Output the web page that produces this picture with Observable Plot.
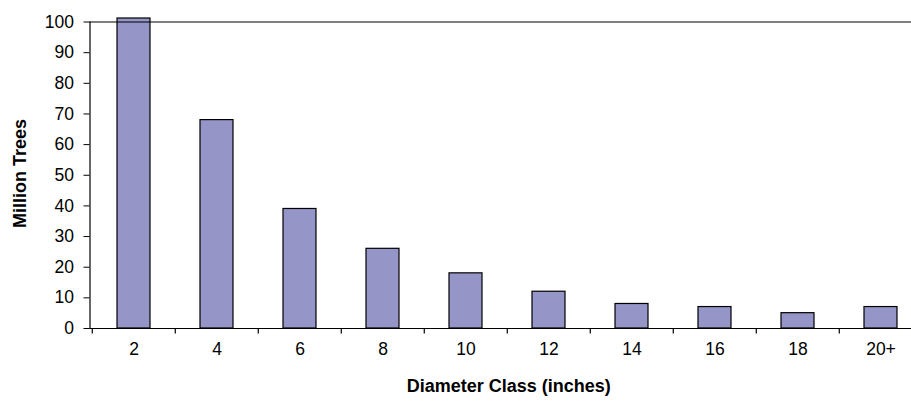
<!DOCTYPE html>
<html>
<head>
<meta charset="utf-8">
<script src="https://cdn.jsdelivr.net/npm/d3@7"></script>
<script src="https://cdn.jsdelivr.net/npm/@observablehq/plot@0.6"></script>
<style>
  html, body { margin: 0; padding: 0; background: #fff; }
</style>
</head>
<body>
<div id="chart"></div>
<script>
const categories = ["2", "4", "6", "8", "10", "12", "14", "16", "18", "20+"];
const millionTrees = [101.15, 68, 39, 26, 18, 12, 8, 7, 5, 7];
const yTicks = [0, 10, 20, 30, 40, 50, 60, 70, 80, 90, 100];
const xTitle = "Diameter Class (inches)";
const yTitle = "Million Trees";

const data = categories.map((c, i) => ({cat: c, value: millionTrees[i]}));

const xRange = [89.5, 924];
const step = (xRange[1] - xRange[0]) / categories.length;

const chart = Plot.plot({
  width: 911,
  height: 405,
  marginLeft: 89.5,
  marginRight: 0,
  marginTop: 18,
  marginBottom: 77,
  style: {fontFamily: "'Liberation Sans', Arial, sans-serif", fontSize: "17px", color: "#000", background: "#fff"},
  x: {domain: categories, range: xRange, paddingInner: 0.6, paddingOuter: 0.3, label: null},
  y: {domain: [0, 101.15], label: null},
  marks: [
    Plot.barY(data, {x: "cat", y: "value", fill: "#9595C8", stroke: "#000", strokeWidth: 1.2}),
    Plot.ruleY([0, 100], {stroke: "#000", strokeWidth: 1.2}),
    Plot.frame({anchor: "left", insetTop: 3.5, stroke: "#000", strokeWidth: 1.2}),
    Plot.ruleX(categories, {x: d => d, dx: -step / 2, y1: 0, y2: -1.8, stroke: "#000", strokeWidth: 1.2}),
    Plot.axisY({ticks: yTicks, tickSize: 6, tickPadding: 10, label: null, fontSize: 17.5, stroke: "#000"}),
    Plot.axisX({tickSize: 0, tickPadding: 14, label: null, fontSize: 17.5}),
    Plot.text([yTitle], {frameAnchor: "left", textAnchor: "middle", rotate: -90, dx: -70, fontWeight: "bold", fontSize: 18}),
    Plot.text([xTitle], {frameAnchor: "bottom", textAnchor: "middle", dx: 8, dy: 63, fontWeight: "bold", fontSize: 18})
  ]
});
document.getElementById("chart").appendChild(chart);
</script>
</body>
</html>
